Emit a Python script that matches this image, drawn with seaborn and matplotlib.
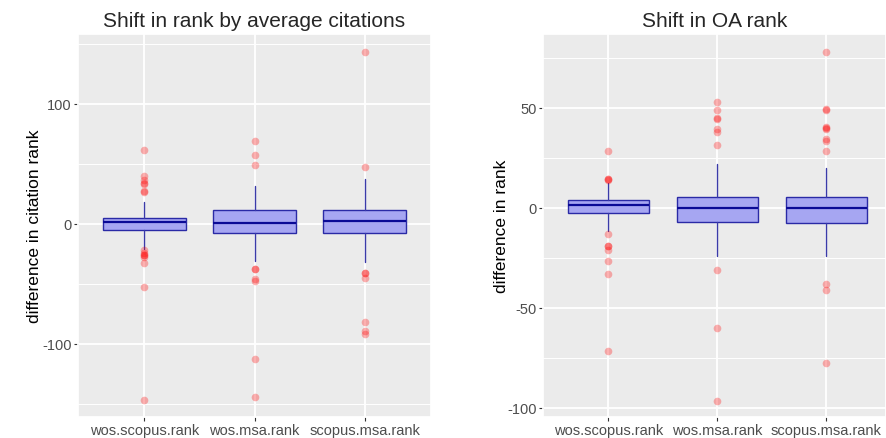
import numpy as np
import pandas as pd
import seaborn as sns
import matplotlib.pyplot as plt
from matplotlib.ticker import MultipleLocator

categories = ["wos.scopus.rank", "wos.msa.rank", "scopus.msa.rank"]

# citation rank shift: box stats per category
cit_q1 = [-5, -8, -8]
cit_med = [1, 0.5, 2.5]
cit_q3 = [5, 11, 11]
cit_whislo = [-21, -31, -32]
cit_whishi = [18, 31, 37]
cit_out_wos_scopus = [61, 40, 36, 34, 33, 27, 26, -22, -24, -26, -26, -28, -33, -53, -147]
cit_out_wos_msa = [69, 57, 49, -38, -38, -46, -48, -113, -144]
cit_out_scopus_msa = [143, 47, -41, -41, -45, -82, -89, -92]

# OA rank shift
oa_q1 = [-2.5, -7, -7.5]
oa_med = [1.5, 0, 0]
oa_q3 = [4, 5.5, 5.5]
oa_whislo = [-11.5, -24, -24]
oa_whishi = [12.5, 22, 20]
oa_out_wos_scopus = [28.5, 14.5, 14, 14.5, -13, -19, -19, -21, -26.5, -33, -71.5]
oa_out_wos_msa = [53, 49, 45, 44.5, 39.5, 38, 31.5, -31, -60, -96.5]
oa_out_scopus_msa = [78, 49.5, 49, 40.5, 40, 39.5, 34.5, 33.5, 28.5, -38, -41, -77.5]

sns.set_theme(style="darkgrid", rc={"axes.facecolor": "#EBEBEB"})
plt.rcParams['font.family'] = ['Liberation Sans', 'DejaVu Sans']
plt.rcParams['axes.unicode_minus'] = False

fig = plt.figure(figsize=(8.86, 4.39), dpi=100)
ax1 = fig.add_axes([78/886, 21/439, 353/886, 383/439])
ax2 = fig.add_axes([543/886, 21/439, 343/886, 383/439])


def draw_panel(ax, q1, med, q3, lo, hi, outliers, title, ylabel, ylim, major, xmax, lpad):
    stats = []
    for i in range(len(categories)):
        stats.append({"q1": q1[i], "med": med[i], "q3": q3[i],
                      "whislo": lo[i], "whishi": hi[i], "fliers": []})
    ax.bxp(stats, positions=range(len(categories)), widths=0.75,
           patch_artist=True, showfliers=False, showcaps=False,
           boxprops=dict(facecolor="#a6a6f2", edgecolor="#2a2aa6", linewidth=1.0),
           medianprops=dict(color="#0a0a96", linewidth=1.6),
           whiskerprops=dict(color="#3a3aa8", linewidth=1.0))
    rows = []
    for cat, vals in zip(categories, outliers):
        for v in vals:
            rows.append({"cat": cat, "val": v})
    df = pd.DataFrame(rows)
    sns.stripplot(data=df, x="cat", y="val", order=categories, jitter=False,
                  color="red", alpha=0.3, size=5.5, linewidth=0, ax=ax, zorder=3)
    ax.set_xlim(-0.6, xmax)
    ax.set_ylim(*ylim)
    ax.set_xticks(range(len(categories)))
    ax.set_xticklabels(categories)
    ax.yaxis.set_major_locator(MultipleLocator(major))
    ax.yaxis.set_minor_locator(MultipleLocator(major / 2))
    ax.grid(which="major", color="white", linewidth=1.3)
    ax.grid(which="minor", axis="y", color="white", linewidth=0.7)
    ax.tick_params(which="major", bottom=True, left=True, length=3, width=0.8,
                   color="#333333", labelcolor="#4D4D4D", labelsize=10.5, pad=1.5)
    ax.tick_params(which="minor", left=False)
    ax.set_xlabel("")
    ax.set_ylabel(ylabel, fontsize=12.5, color="black", labelpad=lpad)
    ax.set_title(title, fontsize=15, pad=6)


draw_panel(ax1, cit_q1, cit_med, cit_q3, cit_whislo, cit_whishi,
           [cit_out_wos_scopus, cit_out_wos_msa, cit_out_scopus_msa],
           "Shift in rank by average citations", "difference in citation rank",
           (-161, 158), 100, 2.6, 0.5)
draw_panel(ax2, oa_q1, oa_med, oa_q3, oa_whislo, oa_whishi,
           [oa_out_wos_scopus, oa_out_wos_msa, oa_out_scopus_msa],
           "Shift in OA rank", "difference in rank",
           (-104.5, 87), 50, 2.547, -1)

fig.savefig("out.png", dpi=100)
